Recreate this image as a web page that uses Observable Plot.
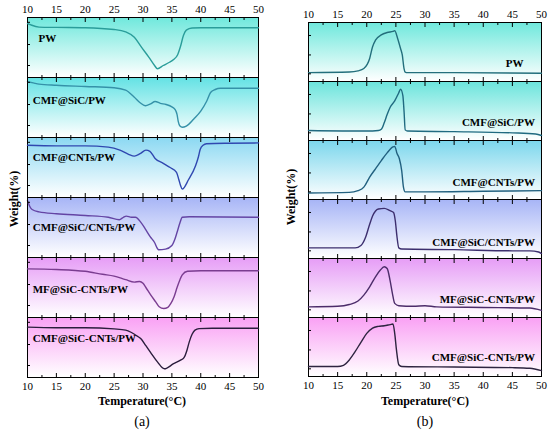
<!DOCTYPE html>
<html><head><meta charset="utf-8">
<script src="https://cdn.jsdelivr.net/npm/d3@7"></script>
<script src="https://cdn.jsdelivr.net/npm/@observablehq/plot@0.6"></script>
<style>
body{margin:0;background:#fff;font-family:"Liberation Serif",serif;}
#wrap{position:relative;width:550px;height:435px;overflow:hidden;}
.col{position:absolute;top:0;}
.t{position:absolute;color:#000;white-space:nowrap;font-family:"Liberation Serif",serif;}
</style></head><body>
<svg width="0" height="0" style="position:absolute"><defs id="grads"></defs></svg>
<div id="wrap">
  <div id="colA" class="col" style="left:0"></div>
  <div id="colB" class="col" style="left:275px"></div>
  <div class="t" style="left:142px;top:394px;transform:translateX(-50%);font-weight:bold;font-size:12px;">Temperature(°C)</div>
  <div class="t" style="left:142px;top:414px;transform:translateX(-50%);font-size:14px;">(a)</div>
  <div class="t" style="left:425px;top:394px;transform:translateX(-50%);font-weight:bold;font-size:12px;">Temperature(°C)</div>
  <div class="t" style="left:425px;top:414px;transform:translateX(-50%);font-size:14px;">(b)</div>
  <div class="t" style="left:14px;top:199px;transform:translate(-50%,-50%) rotate(-90deg);font-weight:bold;font-size:12px;">Weight(%)</div>
  <div class="t" style="left:291px;top:197px;transform:translate(-50%,-50%) rotate(-90deg);font-weight:bold;font-size:12px;">Weight(%)</div>
</div>
<script>
// ---------- data ----------
const samples = ["PW", "CMF@SiC/PW", "CMF@CNTs/PW", "CMF@SiC/CNTs/PW", "MF@SiC-CNTs/PW", "CMF@SiC-CNTs/PW"];
const majorTicks = [10, 15, 20, 25, 30, 35, 40, 45, 50];
const minorTicks = [12.5, 17.5, 22.5, 27.5, 32.5, 37.5, 42.5, 47.5];

// (a) melting curves: [temperature °C, relative signal (% of panel)]
const meltPW = [[10,90],[10.5,88],[12,84],[15,83.5],[20,83],[25,80],[27,76],[28.5,67],[29.7,51],[31,34],[32,20],[32.5,14.5],[33.5,20],[34.5,25],[35.3,30],[36,38],[36.5,52],[37,70],[37.5,79],[38.5,82.5],[40,83],[45,83],[50,83]];
const meltSiC = [[10,93],[11,91],[12,89],[15,87],[20,85],[25,83],[27,79],[28.5,67],[29.5,58],[30.4,53],[31.3,56],[32.1,60],[33,57],[34,55],[35,51],[35.6,46],[35.9,38],[36.1,27],[36.4,19],[36.8,17],[37.5,19],[38.8,31],[40,44],[41,60],[41.7,75],[42.5,80],[43.4,82],[50,82]];
const meltCNTs = [[10,87],[15,86],[20,86],[24,84],[26,79],[27.5,72],[28.5,69],[29.5,73],[30.5,79],[31.2,77],[32.1,65],[33.5,57],[34.7,50],[35.8,42],[36.2,30],[36.5,20],[36.8,14],[37.9,30],[39.1,53],[39.6,68],[39.9,80],[40.4,87],[41,89.5],[45,90.5],[50,91]];
const meltSiCCNTs = [[10,95],[10.4,85],[10.8,80],[12,76],[15,73],[20,70],[24,67],[25.9,63],[26.6,67],[27.1,69],[28,67],[28.7,67],[29.6,59],[30.5,46],[31.3,34],[32,25],[32.5,15],[32.7,13],[33.9,14],[35,20],[35.5,30],[35.9,42],[36.4,58],[36.8,67],[38,68],[50,67]];
const meltMF = [[10,81],[15,80],[20,77],[23,72],[25,69],[27,63],[28.5,59],[29.4,60],[30,57],[30.5,50],[31.3,38],[32.2,26],[32.8,18],[33.6,15],[34.3,17],[34.8,23],[35.4,35],[35.9,50],[36.4,63],[36.8,71],[37.7,77],[40,78],[50,78]];
const meltCMF = [[10,84],[15,83],[20,83],[25,81],[27,79],[28,75],[29,69],[29.6,65],[30.5,53],[31.3,42],[32.5,26],[33.7,14.5],[35.3,23],[36.5,29],[37.1,33],[37.6,45],[38,59],[38.5,72],[39,79],[39.7,81.5],[42,82],[50,82]];

// (b) crystallization curves
const crysPW = [[10,15],[17,16],[18.5,18],[19.5,22],[20.5,39],[21,59],[21.5,70],[22.5,79],[23.5,83],[24.5,85],[24.8,86],[25.3,73],[25.8,56],[26.1,45],[26.4,22],[26.6,16],[27,15],[35,15],[50,14]];
const crysSiC = [[10,17],[20,16],[22,17],[22.5,19],[23,30],[23.5,44],[24,56],[24.8,67],[25.5,81],[25.8,87],[26.2,76],[26.4,50],[26.6,18],[27,16],[35,15],[45,13],[49,11],[50,8.5]];
const crysCNTs = [[10,11],[17,12],[18.5,15],[19.5,21],[20.5,38],[21.5,52],[22.5,66],[23.5,79],[24.5,89],[24.8,90],[25.2,78],[25.6,69],[26,49],[26.3,21],[26.6,13],[30,13],[40,14],[50,15]];
const crysSiCCNTs = [[10,18],[18,18],[19,22],[19.8,36],[20.5,58],[21,72],[22,84],[23,85],[24,81],[24.6,78],[24.9,64],[25.2,36],[25.5,18],[26,16],[35,15],[45,13],[48,13],[49.5,11],[50,8]];
const crysMF = [[10,18],[15,19],[17,22],[18.5,28],[19.5,38],[20.5,52],[21.5,69],[22.3,80],[23,86],[23.5,83],[24,63],[24.4,41],[24.8,24],[25.5,20],[28,19],[30,20],[32,18],[40,17],[48,16],[50,12]];
const crysCMF = [[10,17],[15,17],[16,19],[17,28],[18,42],[19,58],[20,73],[21,82],[22,85],[23,86],[24,88],[24.5,89],[24.8,73],[25.1,45],[25.5,20],[26,17],[35,16],[45,15],[48,14],[50,10]];

const meltSeries = [meltPW, meltSiC, meltCNTs, meltSiCCNTs, meltMF, meltCMF];
const crysSeries = [crysPW, crysSiC, crysCNTs, crysSiCCNTs, crysMF, crysCMF];

// ---------- style ----------
const lineColorsA = ["#2a9d9a", "#3591a8", "#3048b0", "#6444a4", "#7a3c90", "#2b1d3d"];
const lineColorsB = ["#236f7c", "#1f6a80", "#21607f", "#3c2e6e", "#4c2c6a", "#2e2440"];
const bgTopA = ["#6ee8dc", "#62e2e4", "#8ad8f2", "#a6b4f6", "#e69cf6", "#f9a0f4"];
const bgTopB = ["#6ee8dc", "#6ae4dc", "#7ad6ec", "#a6b4f6", "#e69cf6", "#f9a0f4"];

// gradients
const defs = d3.select("#grads");
function addGrad(id, top) {
  const g = defs.append("linearGradient").attr("id", id).attr("x1", 0).attr("y1", 0).attr("x2", 0).attr("y2", 1);
  g.append("stop").attr("offset", "0%").attr("stop-color", top);
  g.append("stop").attr("offset", "100%").attr("stop-color", "#ffffff");
}
bgTopA.forEach((c, i) => addGrad("ga" + i, c));
bgTopB.forEach((c, i) => addGrad("gb" + i, c));

const serif = "Liberation Serif";

function column({series, colors, gradPrefix, labelX, labelYs, anchor, yTicks, margins}) {
  const lines = series.flatMap((s, i) => s.map(([T, v]) => ({sample: samples[i], T, v, color: colors[i]})));
  const panels = samples.map((s, i) => ({sample: s, grad: `url(#${gradPrefix}${i})`}));
  const labels = samples.map((s, i) => ({sample: s, text: s, x: labelX[i], y: labelYs[i]}));
  const inner = {tickFormat: () => "", label: null, facetAnchor: null, strokeWidth: 1, stroke: "#000"};
  return Plot.plot({
    width: 275,
    height: 395,
    ...margins,
    x: {domain: [10, 50]},
    y: {domain: [0, 100]},
    fy: {domain: samples, axis: null, padding: 0},
    color: {type: "identity"},
    style: {fontFamily: serif, fontSize: "11px", color: "#000", background: "transparent", overflow: "visible"},
    marks: [
      Plot.rect(panels, {fy: "sample", fill: "grad"}),
      Plot.frame({stroke: "#000", strokeWidth: 1}),
      Plot.line(lines, {x: "T", y: "v", fy: "sample", stroke: "color", strokeWidth: 1.4, curve: "monotone-x"}),
      Plot.text(labels, {x: "x", y: "y", fy: "sample", text: "text", textAnchor: anchor, fontWeight: "bold", fontSize: 11, fontFamily: serif, fill: "#000"}),
      Plot.axisX({anchor: "top", ticks: majorTicks, tickSize: 0, tickPadding: 5, label: null, tickFormat: d => d, fontFamily: serif, fontSize: 11}),
      Plot.axisX({anchor: "bottom", ticks: majorTicks, tickSize: 0, tickPadding: 5, label: null, tickFormat: d => d, fontFamily: serif, fontSize: 11}),
      Plot.axisX({anchor: "top", ticks: majorTicks, tickSize: -4, ...inner}),
      Plot.axisX({anchor: "bottom", ticks: majorTicks, tickSize: -4, ...inner}),
      Plot.axisX({anchor: "top", ticks: minorTicks, tickSize: -2, ...inner}),
      Plot.axisX({anchor: "bottom", ticks: minorTicks, tickSize: -2, ...inner}),
      Plot.axisY({anchor: "left", ticks: yTicks, tickSize: -3, ...inner})
    ]
  });
}

const plotA = column({
  series: meltSeries, colors: lineColorsA, gradPrefix: "ga",
  labelX: [11.9, 10.9, 10.9, 10.9, 10.9, 10.9],
  labelYs: [65, 62, 67, 50, 47, 65],
  anchor: "start",
  yTicks: [20, 55, 92],
  margins: {marginLeft: 27, marginRight: 17, marginTop: 17, marginBottom: 18}
});
const plotB = column({
  series: crysSeries, colors: lineColorsB, gradPrefix: "gb",
  labelX: [46.9, 48.9, 48.9, 48.9, 48.9, 48.9],
  labelYs: [30, 30, 29, 27, 30, 32],
  anchor: "end",
  yTicks: [13, 45, 78],
  margins: {marginLeft: 33, marginRight: 9, marginTop: 20, marginBottom: 18}
});
document.getElementById("colA").appendChild(plotA);
document.getElementById("colB").appendChild(plotB);
</script>
</body></html>
